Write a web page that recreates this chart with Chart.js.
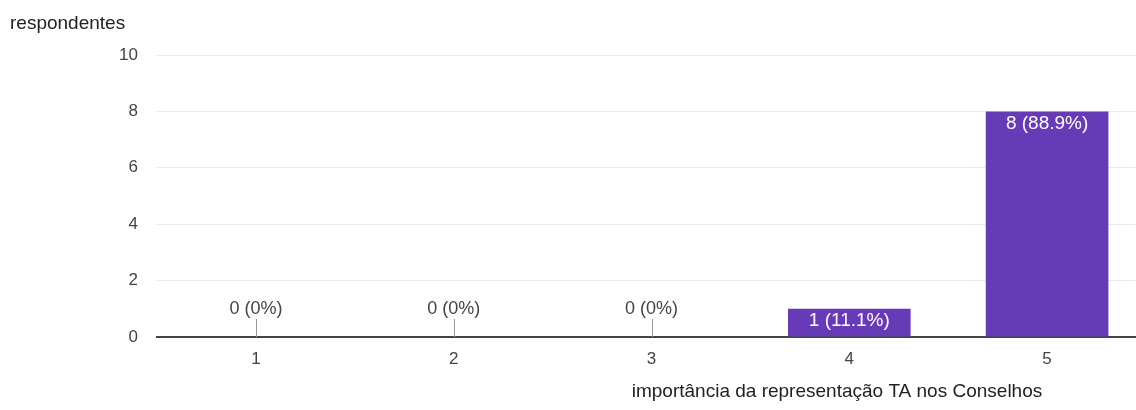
<!DOCTYPE html>
<html lang="pt">
<head>
<meta charset="utf-8">
<script src="https://cdn.jsdelivr.net/npm/chart.js@4"></script>
<style>
  html, body { margin: 0; padding: 0; background: #fff; overflow: hidden; }
  #wrap { width: 1146px; height: 410px; }
</style>
</head>
<body>
<div id="wrap"><canvas id="myChart"></canvas></div>
<script>
// respostas por nível de importância (escala 1 a 5)
const categorias = ["1", "2", "3", "4", "5"];
const respostas = [0, 0, 0, 1, 8];
const ticks_y = [0, 2, 4, 6, 8, 10];
const titulo_y = "respondentes";
const titulo_x = "importância da representação TA nos Conselhos";

const FONTE = '"Liberation Sans", Arial, sans-serif';
const total = respostas.reduce((a, b) => a + b, 0);

// "n (x%)" como no resumo do formulário
function rotulo(v) {
    const pct = v / total * 100;
    return v + " (" + (pct === 0 ? "0" : pct.toFixed(1)) + "%)";
}

// rótulos das barras e títulos dos eixos
const rotulos_plugin = {
    id: "rotulos",
    afterDatasetsDraw(chart) {
        const ctx = chart.ctx;
        const meta = chart.getDatasetMeta(0);
        ctx.save();
        ctx.textAlign = "center";
        ctx.textBaseline = "middle";
        meta.data.forEach((bar, i) => {
            const v = respostas[i];
            if (v === 0) {
                // barra vazia: tracinho e rótulo acima do eixo
                const x = Math.round(bar.x) + 0.5;
                ctx.strokeStyle = "#999";
                ctx.lineWidth = 1;
                ctx.beginPath();
                ctx.moveTo(x, bar.base);
                ctx.lineTo(x, bar.base - 18);
                ctx.stroke();
                ctx.fillStyle = "#444";
                ctx.font = "18px " + FONTE;
                ctx.fillText(rotulo(v), bar.x, bar.base - 28);
            } else {
                ctx.fillStyle = "#fff";
                ctx.font = "19px " + FONTE;
                ctx.fillText(rotulo(v), bar.x, bar.y + 12);
            }
        });

        ctx.fillStyle = "#222";
        ctx.font = "19px " + FONTE;
        ctx.textBaseline = "alphabetic";
        ctx.textAlign = "left";
        ctx.fillText(titulo_y, 10, 29);
        ctx.textAlign = "center";
        ctx.fillText(titulo_x, 837, 397);
        ctx.restore();
    }
};

const ctx = document.getElementById("myChart").getContext("2d");

const chart = new Chart(ctx, {
    type: "bar",
    data: {
        labels: categorias,
        datasets: [{
            data: respostas,
            backgroundColor: "#673ab7",
            barPercentage: 0.62,
            categoryPercentage: 1
        }]
    },
    options: {
        responsive: true,
        maintainAspectRatio: false,
        animation: false,
        layout: { padding: { top: 55, right: 0, bottom: 0, left: 0 } },
        plugins: {
            legend: { display: false },
            tooltip: { enabled: false }
        },
        scales: {
            x: {
                grid: { display: false, drawTicks: false },
                border: { color: "#444", width: 2 },
                ticks: { color: "#444", font: { size: 17, family: FONTE }, padding: 12 },
                afterFit: s => { s.height = 73; }
            },
            y: {
                min: 0,
                max: 10,
                afterBuildTicks: s => { s.ticks = ticks_y.map(v => ({ value: v })); },
                ticks: { color: "#444", font: { size: 17, family: FONTE }, padding: 19 },
                grid: {
                    color: c => c.tick && c.tick.value === 0 ? "rgba(0,0,0,0)" : "#ebebeb",
                    drawTicks: false
                },
                border: { display: false },
                afterFit: s => { s.width = 157; }
            }
        }
    },
    plugins: [rotulos_plugin]
});
</script>
</body>
</html>
